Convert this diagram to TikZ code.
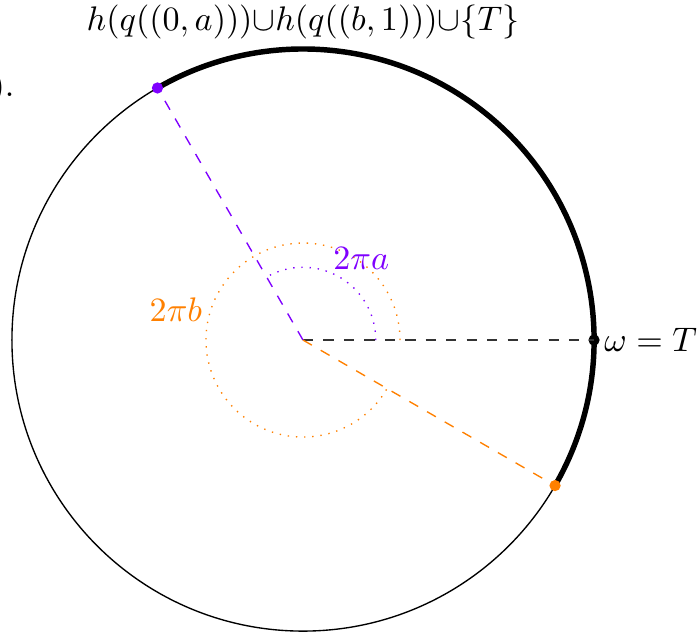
\documentclass[tikz,border=0pt]{standalone}
\usepackage{amsmath}
\definecolor{myviolet}{RGB}{127,0,255}
\definecolor{myorange}{RGB}{255,128,0}
\tikzset{
  dotpt/.style={circle,fill,inner sep=0pt,minimum size=3.3pt},
  radial/.style={dashed},
  anglearc/.style={dotted}
}
\begin{document}
\begin{tikzpicture}
\useasboundingbox (-3.123,-3.03) rectangle (4.092,3.505);
\coordinate (O) at (0,0);
\draw (O) circle (3);
\draw[line width=1.6pt] (330:3) arc (-30:120:3);
\draw[anglearc,myviolet] (0.75,0) arc (0:120:0.75);
\draw[anglearc,myorange] (1,0) arc (0:330:1);
\node[dotpt,myviolet] (P) at (120:3) {};
\node[dotpt,myorange] (Q) at (330:3) {};
\node[dotpt,black] (W) at (0:3) {};
\draw[radial,black!80] (O) -- (W.center);
\draw[radial,myviolet] (O) -- (P.center);
\draw[radial,myorange] (O) -- (Q.center);
\node[anchor=west,inner sep=1pt] (wl) at (W.east) {$\omega = T$};
\node[myviolet] (la) at (0.6,0.84) {$2\pi a$};
\node[myorange] (lb) at (-1.31,0.31) {$2\pi b$};
\node (title) at (0,3.28) {$h(q((0,a))){\cup}h(q((b,1))){\cup}\{T\}$};
\node[anchor=east,inner sep=0pt] (cut) at (-2.968,2.597) {$)$.};
\end{tikzpicture}
\end{document}
